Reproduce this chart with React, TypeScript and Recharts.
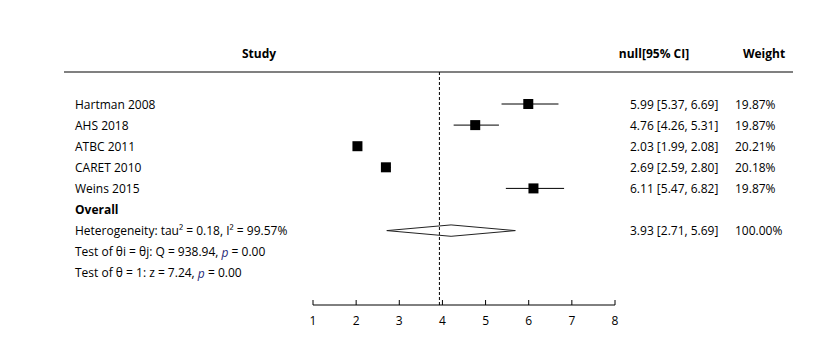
import {
  Customized,
  ErrorBar,
  ReferenceLine,
  Scatter,
  ScatterChart,
  XAxis,
  YAxis,
} from "recharts";

const studies = ["Hartman 2008", "AHS 2018", "ATBC 2011", "CARET 2010", "Weins 2015"];
const estimates = [5.99, 4.76, 2.03, 2.69, 6.11];
const ciLow = [5.37, 4.26, 1.99, 2.59, 5.47];
const ciHigh = [6.69, 5.31, 2.08, 2.8, 6.82];
const weights = [19.87, 19.87, 20.21, 20.18, 19.87];

const overallEstimate = 3.93;
const overallCi = [2.71, 5.69];
const overallWeight = 100;

const xTicks = [1, 2, 3, 4, 5, 6, 7, 8];

const headers = ["Study", "null[95% CI]", "Weight"];

const FONT = "'Open Sans', 'Noto Sans', sans-serif";
const W = 832;
const H = 352;

// column x positions (layout only)
const COL_LABEL = 75;
const COL_EST = 630;
const COL_WEIGHT = 735;

interface TableRow {
  x: number;
  row: number;
  label: React.ReactNode;
  bold?: boolean;
  est?: string;
  weight?: string;
}

const fmtCi = (e: number, lo: number, hi: number) =>
  `${e.toFixed(2)} [${lo.toFixed(2)}, ${hi.toFixed(2)}]`;

const P = () => (
  <tspan fontStyle="italic" fill="#2a2a78">
    p
  </tspan>
);

const tableRows: TableRow[] = [
  ...studies.map((s, i) => ({
    x: 1,
    row: i,
    label: s,
    est: fmtCi(estimates[i], ciLow[i], ciHigh[i]),
    weight: `${weights[i].toFixed(2)}%`,
  })),
  { x: 1, row: 5, label: "Overall", bold: true },
  {
    x: 1,
    row: 6,
    label: "Heterogeneity: tau\u00b2 = 0.18, I\u00b2 = 99.57%",
    est: fmtCi(overallEstimate, overallCi[0], overallCi[1]),
    weight: `${overallWeight.toFixed(2)}%`,
  },
  {
    x: 1,
    row: 7,
    label: (
      <>
        Test of θi = θj: Q = 938.94, <P /> = 0.00
      </>
    ),
  },
  {
    x: 1,
    row: 8,
    label: (
      <>
        Test of θ = 1: z = 7.24, <P /> = 0.00
      </>
    ),
  },
];

const studyPoints = studies.map((s, i) => ({
  name: s,
  x: estimates[i],
  row: i,
  err: [estimates[i] - ciLow[i], ciHigh[i] - estimates[i]],
}));

// diamond outline for the pooled estimate (row 6)
const mid = (overallCi[0] + overallCi[1]) / 2;
const halfH = 0.27;
const diamond = [
  { x: overallCi[0], row: 6 },
  { x: mid, row: 6 - halfH },
  { x: overallCi[1], row: 6 },
  { x: mid, row: 6 + halfH },
  { x: overallCi[0], row: 6 },
];

function Square(props: any) {
  const { cx, cy } = props;
  const s = 10;
  return <rect x={cx - s / 2} y={cy - s / 2} width={s} height={s} fill="#000" />;
}

function RowText(props: any) {
  const { cy, payload } = props;
  const common = {
    y: cy,
    dominantBaseline: "central" as const,
    fontSize: 12,
    fontFamily: FONT,
    fill: "#000",
  };
  return (
    <g>
      <text x={COL_LABEL} fontWeight={payload.bold ? 700 : 400} {...common}>
        {payload.label}
      </text>
      {payload.est && (
        <text x={COL_EST} {...common}>
          {payload.est}
        </text>
      )}
      {payload.weight && (
        <text x={COL_WEIGHT} {...common}>
          {payload.weight}
        </text>
      )}
    </g>
  );
}

function Header() {
  const xs = [259, 654, 764];
  return (
    <g>
      {headers.map((h, i) => (
        <text
          key={h}
          x={xs[i]}
          y={53}
          textAnchor="middle"
          dominantBaseline="central"
          fontSize={12}
          fontWeight={700}
          fontFamily={FONT}
          fill="#000"
        >
          {h}
        </text>
      ))}
      <line x1={64} x2={793} y1={72} y2={72} stroke="#808080" strokeWidth={2} />
    </g>
  );
}

export default function App() {
  return (
    <div style={{ position: "absolute", left: 0, top: 0, width: W, height: H, background: "#fff" }}>
      <ScatterChart
        width={W}
        height={H}
        margin={{ top: 72, right: 217, bottom: 17, left: 313 }}
      >
        <XAxis
          type="number"
          dataKey="x"
          domain={[1, 8]}
          ticks={xTicks}
          interval={0}
          height={30}
          axisLine={{ stroke: "#000" }}
          tickLine={{ stroke: "#000" }}
          tickSize={-5}
          tickMargin={16}
          tick={{ fill: "#000", fontSize: 12, fontFamily: FONT }}
        />
        <YAxis type="number" dataKey="row" domain={[-1.517, 9.526]} reversed hide />
        <ReferenceLine x={overallEstimate} stroke="#000" strokeDasharray="3 2" />
        <Scatter data={tableRows} shape={RowText} isAnimationActive={false} />
        <Scatter data={studyPoints} shape={Square} isAnimationActive={false}>
          <ErrorBar dataKey="err" direction="x" width={0} stroke="#000" strokeWidth={1} />
        </Scatter>
        <Scatter
          data={diamond}
          line={{ stroke: "#222", strokeWidth: 1 }}
          shape={() => <g />}
          isAnimationActive={false}
        />
        <Customized component={Header} />
      </ScatterChart>
    </div>
  );
}
